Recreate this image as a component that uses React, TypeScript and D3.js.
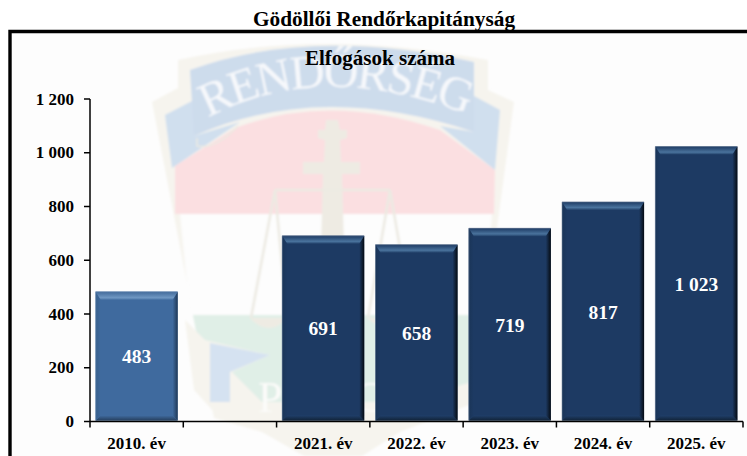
import React from "react";
import * as d3 from "d3";

const chartTitle = "Gödöllői Rendőrkapitányság";
const subTitle = "Elfogások száma";
const categories = ["2010. év", "", "2021. év", "2022. év", "2023. év", "2024. év", "2025. év"];
const values: (number | null)[] = [483, null, 691, 658, 719, 817, 1023];
const yTicks = [0, 200, 400, 600, 800, 1000, 1200];

const serif = "'Liberation Serif', 'Times New Roman', serif";
const fmt = d3.formatLocale({ decimal: ",", thousands: " ", grouping: [3], currency: ["", ""] }).format(",d");

const x = d3.scaleBand<string>().domain(categories.map((c, i) => i + "")).range([90, 743]).paddingInner(0).paddingOuter(0);
const y = d3.scaleLinear().domain([0, 1200]).range([421.5, 99]);

const poly = (p: number[][]) => p.map((q) => q.join(",")).join(" ");

function Emblem() {
  const banner = "M190,70 Q310,26 474,62 L474,132 Q320,80 194,136 Z";
  return (
    <g filter="url(#soft)">
      <path d="M152,102 L178,88 L178,60 Q320,28 488,60 L488,90 L514,102 L494,250 L482,400 L400,432 L362,456 L304,456 L262,432 L214,418 L196,330 Z" fill="#f6f4ee" />
      <path d="M175,214 L175,166 L235,128 Q330,92 440,130 L495,170 L494,214 Z" fill="#fbdfe1" />
      <path d="M180,214 L492,214 L484,315 L190,315 Z" fill="#fdfdfd" />
      <path d="M193,315 L478,315 L472,382 L400,402 L262,402 L207,388 Z" fill="#e0efe7" />
      <path d="M185,320 L194,390 L214,412 L262,402 L232,372 L270,355 L205,340 Z" fill="#f6f4ee" />
      <path d="M165,115 L194,100 L194,136 L240,122 L172,168 Z" fill="#d0dfee" />
      <path d="M474,96 L500,110 L495,170 L440,126 L474,132 Z" fill="#d0dfee" />
      <path d={banner} fill="#cddcec" />
      <path d="M197,138 L197,146 Q215,150 238,126" fill="none" stroke="#eceae2" strokeWidth={1.5} />
      <path id="bannerArc" d="M208,118 Q320,58 466,114" fill="none" />
      <text fontFamily={serif} fontSize={48} fill="#f6f8fb">
        <textPath href="#bannerArc" startOffset="0%" textLength={268}>RENDŐRSÉG</textPath>
      </text>
      <path d="M326,120 L338,120 L340,130 L347,130 L347,138 L340,140 L341,162 L360,162 L360,174 L342,174 L346,320 L319,320 L323,174 L303,174 L303,162 L324,162 L325,140 L318,138 L318,130 L325,130 Z" fill="#eeebe3" />
      <g stroke="#eceae2" strokeWidth={2.5} fill="none">
        <path d="M275,190 L390,190" />
        <path d="M275,190 L251,318 M275,190 L287,318" />
        <path d="M390,190 L368,318 M390,190 L412,318" />
      </g>
      <path d="M250,318 Q268,338 288,318 Z" fill="#eeebe3" />
      <path d="M367,318 Q390,338 413,318 Z" fill="#eeebe3" />
      <path d="M210,343 L270,355 L230,372 L230,402 L210,402 Z" fill="#d5e2f1" />
      <text x={258} y={412} fontFamily={serif} fontSize={44} fill="#fbfbf9">P</text>
      <text x={354} y={412} fontFamily={serif} fontSize={44} fill="#fbfbf9">C</text>
    </g>
  );
}

function Bar({ i, v }: { i: number; v: number }) {
  const bw = 82;
  const cx = x(i + "")! + x.bandwidth() / 2;
  const l = cx - bw / 2, r = cx + bw / 2, t = y(v), b = y(0) - 1;
  const bt = 8, bs = 5, bb = 5;
  const k = i === 0 ? "A" : "B";
  const face = i === 0 ? "#3f6a9e" : "#1d3a63";
  return (
    <g>
      <rect x={l} y={t} width={bw} height={b - t} fill={face} />
      <polygon points={poly([[l, b], [r, b], [r - bs, b - bb], [l + bs, b - bb]])} fill={`url(#bottom${k})`} />
      <polygon points={poly([[l, t], [l + bs, t + bt], [l + bs, b - bb], [l, b]])} fill={`url(#left${k})`} />
      <polygon points={poly([[r, t], [r - bs, t + bt], [r - bs, b - bb], [r, b]])} fill={`url(#side${k})`} />
      <polygon points={poly([[l, t], [r, t], [r - bs, t + bt], [l + bs, t + bt]])} fill={`url(#top${k})`} />
      <path d={`M${l},${b} L${l},${t} L${r},${t}`} fill="none" stroke={i === 0 ? "#7f9cbc" : "#6d8098"} strokeWidth={0.6} />
      <text x={cx} y={(t + y(0)) / 2} dy="0.35em" textAnchor="middle" fontFamily={serif} fontWeight="bold" fontSize={19.5} fill="#fff">
        {fmt(v)}
      </text>
    </g>
  );
}

export default function App() {
  return (
    <svg width={747} height={456} style={{ position: "absolute", left: 0, top: 0, display: "block" }}>
      <defs>
        <filter id="soft" x="-5%" y="-5%" width="110%" height="110%">
          <feGaussianBlur stdDeviation={0.8} />
        </filter>
        <linearGradient id="topA" x1="0" y1="0" x2="0" y2="1">
          <stop offset="0" stopColor="#41699a" />
          <stop offset="0.75" stopColor="#6f97c2" />
          <stop offset="1" stopColor="#4b76a8" />
        </linearGradient>
        <linearGradient id="topB" x1="0" y1="0" x2="0" y2="1">
          <stop offset="0" stopColor="#1d3a63" />
          <stop offset="0.7" stopColor="#4a739d" />
          <stop offset="1" stopColor="#23426b" />
        </linearGradient>
        <linearGradient id="sideA" x1="0" y1="0" x2="1" y2="0">
          <stop offset="0" stopColor="#3f6a9e" />
          <stop offset="1" stopColor="#1f3856" />
        </linearGradient>
        <linearGradient id="sideB" x1="0" y1="0" x2="1" y2="0">
          <stop offset="0" stopColor="#1d3a63" />
          <stop offset="1" stopColor="#050b12" />
        </linearGradient>
        <linearGradient id="leftA" x1="0" y1="0" x2="1" y2="0">
          <stop offset="0" stopColor="#38608c" />
          <stop offset="1" stopColor="#3f6a9e" />
        </linearGradient>
        <linearGradient id="leftB" x1="0" y1="0" x2="1" y2="0">
          <stop offset="0" stopColor="#1a3558" />
          <stop offset="1" stopColor="#1d3a63" />
        </linearGradient>
        <linearGradient id="bottomA" x1="0" y1="0" x2="0" y2="1">
          <stop offset="0" stopColor="#3f6a9e" />
          <stop offset="1" stopColor="#263f5e" />
        </linearGradient>
        <linearGradient id="bottomB" x1="0" y1="0" x2="0" y2="1">
          <stop offset="0" stopColor="#1f3e68" />
          <stop offset="1" stopColor="#112338" />
        </linearGradient>
      </defs>
      <rect width={747} height={456} fill="#fff" />
      <rect x={10} y={31} width={737} height={425} fill="#fdfdfd" />
      <Emblem />
      <path d="M10,456 L10,31.5 L747,31.5" fill="none" stroke="#000" strokeWidth={3.4} />
      <text x={384} y={26} textAnchor="middle" fontFamily={serif} fontWeight="bold" fontSize={21.3} fill="#000">{chartTitle}</text>
      <text x={380} y={65} textAnchor="middle" fontFamily={serif} fontWeight="bold" fontSize={21} fill="#000">{subTitle}</text>

      {values.map((v, i) => (v == null ? null : <Bar key={i} i={i} v={v} />))}

      <g stroke="#000" strokeWidth={1.5} fill="none">
        <line x1={90} x2={90} y1={y(1200)} y2={y(0) + 6} />
        <line x1={90} x2={743} y1={y(0)} y2={y(0)} />
        {yTicks.map((t) => <line key={t} x1={84} x2={90} y1={y(t)} y2={y(t)} />)}
        {categories.map((c, i) => {
          const px = x(i + "")! + x.bandwidth();
          return <line key={i} x1={px} x2={px} y1={y(0)} y2={y(0) + 6} />;
        })}
      </g>
      {yTicks.map((t) => (
        <text key={t} x={74} y={y(t)} dy="0.33em" textAnchor="end" fontFamily={serif} fontWeight="bold" fontSize={17} fill="#000">{fmt(t)}</text>
      ))}
      {categories.map((c, i) => (
        <text key={i} x={x(i + "")! + x.bandwidth() / 2} y={449} textAnchor="middle" fontFamily={serif} fontWeight="bold" fontSize={17} fill="#000">{c}</text>
      ))}
    </svg>
  );
}
